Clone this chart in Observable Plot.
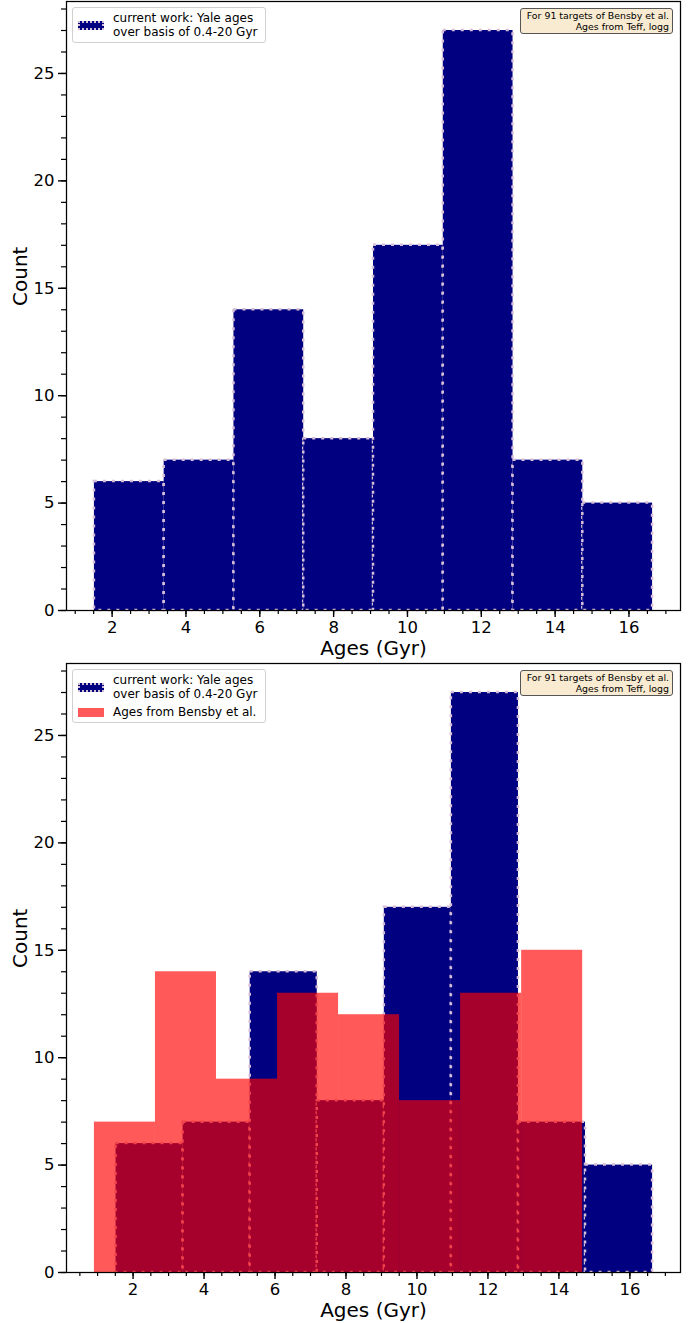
<!DOCTYPE html>
<html>
<head>
<meta charset="utf-8">
<script src="https://cdn.jsdelivr.net/npm/d3@7"></script>
<script src="https://cdn.jsdelivr.net/npm/@observablehq/plot@0.6"></script>
<style>
  html, body { margin: 0; padding: 0; background: #fff; overflow: hidden; }
  body { font-family: "DejaVu Sans", sans-serif; width: 694px; }
  .panel { position: relative; width: 694px; }
  .panel svg { display: block; }
  .legend {
    position: absolute; left: 72px; background: rgba(255,255,255,0.85);
    border: 1px solid #d0d0d0; border-radius: 3px; padding: 3px 8px 3px 5px;
    font-size: 12px; line-height: 14px; color: #000;
  }
  .legend .row { display: flex; align-items: center; }
  .legend .sw { width: 26px; height: 9px; margin-right: 9px; flex: none; box-sizing: border-box; }
  .legend .yale { background: #000080; border: 2px dotted #d8bfd8; }
  .legend .red { background: rgba(255,0,0,0.65); }
  .note {
    position: absolute; right: 21px; background: rgba(245,222,179,0.6);
    border: 1px solid #555; border-radius: 3px; padding: 1px 3px 1px 6px;
    font-size: 9.4px; line-height: 11px; text-align: right; color: #000;
  }
</style>
</head>
<body>
<div id="panelTop" class="panel"></div>
<div id="panelBottom" class="panel"></div>
<script>
// ---- data ----
const yaleEdges = [1.52, 3.41, 5.30, 7.19, 9.08, 10.97, 12.86, 14.75, 16.64];
const yaleCounts = [6, 7, 14, 8, 17, 27, 7, 5];
const bensbyEdges = [0.91, 2.63, 4.35, 6.07, 7.79, 9.51, 11.23, 12.95, 14.67];
const bensbyCounts = [7, 14, 9, 13, 12, 8, 13, 15];
const xMajorTicks = [2, 4, 6, 8, 10, 12, 14, 16];
const yMajorTicks = [0, 5, 10, 15, 20, 25];
const yaleLabel = ["current work: Yale ages", "over basis of 0.4-20 Gyr"];
const bensbyLabel = "Ages from Bensby et al.";
const noteLines = ["For 91 targets of Bensby et al.", "Ages from Teff, logg"];
const xLabel = "Ages (Gyr)";
const yLabel = "Count";

const toBins = (edges, counts) => counts.map((c, i) => ({x1: edges[i], x2: edges[i + 1], count: c}));
const yaleBins = toBins(yaleEdges, yaleCounts);
const bensbyBins = toBins(bensbyEdges, bensbyCounts);

function domainWithMargin(lo, hi) {
  const m = (hi - lo) * 0.05;
  return [lo - m, hi + m];
}

function makePanel(withBensby, height, marginTop) {
  const allEdges = withBensby ? yaleEdges.concat(bensbyEdges) : yaleEdges;
  const xd = domainWithMargin(d3.min(allEdges), d3.max(allEdges));
  const ymax = d3.max(withBensby ? yaleCounts.concat(bensbyCounts) : yaleCounts) * 1.05;
  const xMinor = d3.range(Math.ceil(xd[0] * 2) / 2, xd[1], 0.5);
  const yMinor = d3.range(0, Math.floor(ymax) + 1, 1);
  const marks = [
    Plot.rect(yaleBins, {x1: "x1", x2: "x2", y1: 0, y2: "count", fill: "#000080",
      stroke: "#d8bfd8", strokeWidth: 2.5, strokeDasharray: "3,6"}),
  ];
  if (withBensby) {
    marks.push(Plot.rect(bensbyBins, {x1: "x1", x2: "x2", y1: 0, y2: "count", fill: "#ff0000", fillOpacity: 0.65}));
  }
  marks.push(
    Plot.frame({stroke: "#000", strokeWidth: 1.25}),
    Plot.axisX({ticks: xMinor, tickSize: 4, tickFormat: () => "", strokeWidth: 1.2, label: null}),
    Plot.axisX({ticks: xMajorTicks, tickSize: 7, tickPadding: 4, fontSize: 16.5, strokeWidth: 1.4, label: null, tickFormat: d3.format("d")}),
    Plot.axisY({ticks: yMinor, tickSize: 5, tickFormat: () => "", strokeWidth: 1.2, label: null}),
    Plot.axisY({ticks: yMajorTicks, tickSize: 8, tickPadding: 4, fontSize: 16.5, strokeWidth: 1.4, label: null, tickFormat: d3.format("d")}),
    Plot.text([xLabel], {frameAnchor: "bottom", dy: 38, fontSize: 20, lineAnchor: "middle", fill: "#000"}),
    Plot.text([yLabel], {frameAnchor: "left", dx: -46, rotate: -90, fontSize: 20, lineAnchor: "middle", fill: "#000"})
  );
  return Plot.plot({
    width: 694,
    height,
    marginTop,
    marginBottom: 51,
    marginLeft: 66,
    marginRight: 14,
    style: {fontFamily: "DejaVu Sans, sans-serif", color: "#000", background: "#fff", overflow: "visible"},
    x: {domain: xd, label: null},
    y: {domain: [0, ymax], label: null},
    marks
  });
}

function addOverlays(container, withBensby, plotTop) {
  const lg = document.createElement("div");
  lg.className = "legend";
  lg.style.top = (plotTop + 6) + "px";
  let html = `<div class="row"><div class="sw yale"></div><div>${yaleLabel.join("<br>")}</div></div>`;
  if (withBensby) {
    html += `<div class="row" style="margin-top:4px"><div class="sw red"></div><div>${bensbyLabel}</div></div>`;
  }
  lg.innerHTML = html;
  container.appendChild(lg);
  const nt = document.createElement("div");
  nt.className = "note";
  nt.style.top = (plotTop + 7) + "px";
  nt.innerHTML = noteLines.join("<br>");
  container.appendChild(nt);
}

const panelTop = document.getElementById("panelTop");
panelTop.appendChild(makePanel(false, 661, 1));
addOverlays(panelTop, false, 1);

const panelBottom = document.getElementById("panelBottom");
panelBottom.appendChild(makePanel(true, 662, 2));
addOverlays(panelBottom, true, 2);
</script>
</body>
</html>
